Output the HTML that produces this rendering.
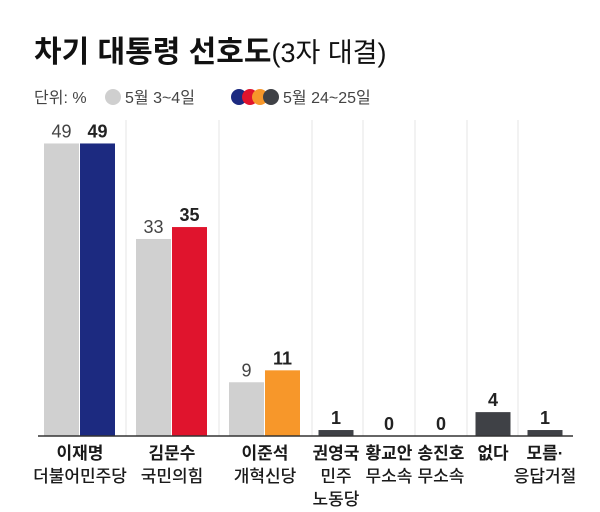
<!DOCTYPE html>
<html><head><meta charset="utf-8"><style>
body{margin:0;background:#fff;width:600px;height:507px;overflow:hidden;font-family:"Liberation Sans","Noto Sans CJK KR",sans-serif}
</style></head><body>
<svg width="600" height="507" font-family="Liberation Sans, Noto Sans CJK KR, sans-serif">
<text x="34" y="62" font-size="30" font-weight="bold" fill="#111">차기 대통령 선호도<tspan font-weight="normal" font-size="27">(3자 대결)</tspan></text>
<g font-size="16" fill="#444">
<text x="34" y="103">단위: %</text>
<circle cx="113" cy="97" r="8" fill="#cfcfcf"/>
<text x="125" y="103">5월 3~4일</text>
<circle cx="239" cy="97" r="8" fill="#1c2a80"/><circle cx="250" cy="97" r="8" fill="#e0142d"/><circle cx="260" cy="97" r="8" fill="#f7972a"/><circle cx="271" cy="97" r="8" fill="#3f4146"/>
<text x="283" y="103">5월 24~25일</text>
</g>
<g id="plot"></g>
</svg>
<script>
const categories=["이재명|더불어민주당","김문수|국민의힘","이준석|개혁신당","권영국|민주|노동당","황교안|무소속","송진호|무소속","없다","모름·|응답거절"];
const earlyValues=[49,33,9,null,null,null,null,null];
const lateValues=[49,35,11,1,0,0,4,1];
const lateColors=["#1c2a80","#e0142d","#f7972a","#3f4146","#3f4146","#3f4146","#3f4146","#3f4146"];
const centers=[80,172,265,336,389,441,493,545];
const separators=[126,219,312,363,415,467,518];
const base=436, unit=5.97, bw=35;
const y=v=>base-v*unit;
const g=document.getElementById('plot');
const NS="http://www.w3.org/2000/svg";
function mk(t,a){const e=document.createElementNS(NS,t);for(const k in a)e.setAttribute(k,a[k]);g.appendChild(e);return e;}
separators.forEach(x=>{const e=mk('line',{x1:x,x2:x,y1:120,y2:base,stroke:'#e4e4e4','stroke-width':1});

});
categories.forEach((c,i)=>{
 const cx=centers[i];
 const ev=earlyValues[i], lv=lateValues[i];
 let lx=cx-bw/2;
 if(ev!==null){
  lx=cx;
  const r=mk('rect',{x:cx-bw-1,y:y(ev),width:bw,height:ev*unit,fill:'#d0d0d0'});
  
  
  const t=mk('text',{x:cx-bw/2-1,y:y(ev)-6,'text-anchor':'middle','font-size':18,fill:'#444'});t.textContent=ev;
  
  
 }
 const r=mk('rect',{x:lx,y:y(lv),width:bw,height:lv*unit,fill:lateColors[i]});
 
 
 const t=mk('text',{x:lx+bw/2,y:y(lv)-6,'text-anchor':'middle','font-size':18,'font-weight':'bold',fill:'#222'});t.textContent=lv;
 
 
 c.split('|').forEach((s,j)=>{
  const l=mk('text',{x:cx,y:459+j*23,'text-anchor':'middle','font-size':17,'font-weight':j==0?'bold':'500',fill:'#1a1a1a'});l.textContent=s;
  
  
 });
});
const ax=mk('line',{x1:38,x2:573,y1:base,y2:base,stroke:'#333','stroke-width':1.5});


</script>
</body></html>
